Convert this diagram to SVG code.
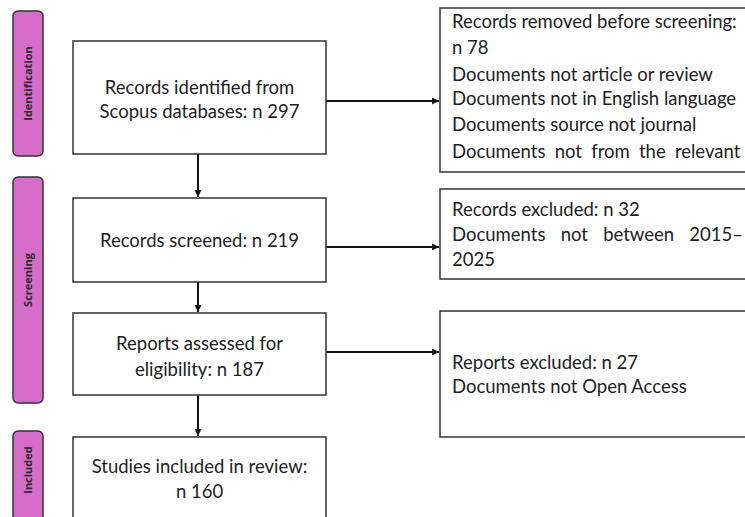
<svg xmlns="http://www.w3.org/2000/svg" width="745" height="517" viewBox="0 0 745 517">
<style>
.bg{fill:#ffffff}
.phase{fill:#d46cc8;stroke:#333333;stroke-width:1.5}
.ptxt{font-family:"Open Sans","Liberation Sans",sans-serif;font-weight:bold;font-size:11px;fill:#2a2a2a;text-anchor:middle}
.box{fill:#ffffff;stroke:#333333;stroke-width:1.5}
.t{font-family:Lato,"Liberation Sans",sans-serif;font-size:18.5px;fill:#222222}
.c{text-anchor:middle}
.con{stroke:#111111;stroke-width:2;fill:none}
</style>
<defs>
<marker id="ah" markerWidth="8" markerHeight="8" refX="7" refY="4" orient="auto" markerUnits="userSpaceOnUse">
<path d="M0,0.5 L7,4 L0,7.5 Z" fill="#111111"/>
</marker>
</defs>
<rect class="bg" x="0" y="0" width="745" height="517"/>
<g id="phase-identification">
<rect class="phase" x="13" y="11" width="30" height="145" rx="5"/>
<text class="ptxt" transform="translate(32,83.5) rotate(-90)">Identification</text>
</g>
<g id="phase-screening">
<rect class="phase" x="13" y="177" width="30" height="226" rx="5"/>
<text class="ptxt" transform="translate(32,280) rotate(-90)">Screening</text>
</g>
<g id="phase-included">
<rect class="phase" x="13" y="431" width="30" height="90" rx="5"/>
<text class="ptxt" transform="translate(32,470) rotate(-90)">Included</text>
</g>
<g id="connectors">
<line class="con" x1="326" y1="101" x2="439" y2="101" marker-end="url(#ah)"/>
<line class="con" x1="326" y1="247" x2="439" y2="247" marker-end="url(#ah)"/>
<line class="con" x1="326" y1="352" x2="439" y2="352" marker-end="url(#ah)"/>
<line class="con" x1="198" y1="154" x2="198" y2="197" marker-end="url(#ah)"/>
<line class="con" x1="198" y1="282" x2="198" y2="312" marker-end="url(#ah)"/>
<line class="con" x1="198" y1="395" x2="198" y2="436" marker-end="url(#ah)"/>
</g>
<g id="identified">
<rect class="box" x="73" y="41" width="253" height="113"/>
<text class="t c" x="199.5" y="94">Records identified from</text>
<text class="t c" x="199.5" y="118">Scopus databases: n 297</text>
</g>
<g id="screened">
<rect class="box" x="73" y="198" width="253" height="84"/>
<text class="t c" x="199.5" y="247">Records screened: n 219</text>
</g>
<g id="assessed">
<rect class="box" x="73" y="313" width="253" height="82"/>
<text class="t c" x="199.5" y="350">Reports assessed for</text>
<text class="t c" x="199.5" y="376">eligibility: n 187</text>
</g>
<g id="included">
<rect class="box" x="73" y="437" width="253" height="90"/>
<text class="t c" x="199.5" y="473">Studies included in review:</text>
<text class="t c" x="199.5" y="498">n 160</text>
</g>
<g id="removed">
<rect class="box" x="440" y="8" width="320" height="164"/>
<text class="t" x="452" y="28">Records removed before screening:</text>
<text class="t" x="452" y="54">n 78</text>
<text class="t" x="452" y="81">Documents not article or review</text>
<text class="t" x="452" y="105">Documents not in English language</text>
<text class="t" x="452" y="131">Documents source not journal</text>
<text class="t" x="452" y="158" word-spacing="4.5">Documents not from the relevant</text>
</g>
<g id="excluded">
<rect class="box" x="440" y="189" width="320" height="90"/>
<text class="t" x="452" y="216">Records excluded: n 32</text>
<text class="t" x="452" y="241" word-spacing="10.5">Documents not between 2015–</text>
<text class="t" x="452" y="266">2025</text>
</g>
<g id="reports-excluded">
<rect class="box" x="440" y="311" width="320" height="126"/>
<text class="t" x="452" y="369">Reports excluded: n 27</text>
<text class="t" x="452" y="393">Documents not Open Access</text>
</g>
</svg>
